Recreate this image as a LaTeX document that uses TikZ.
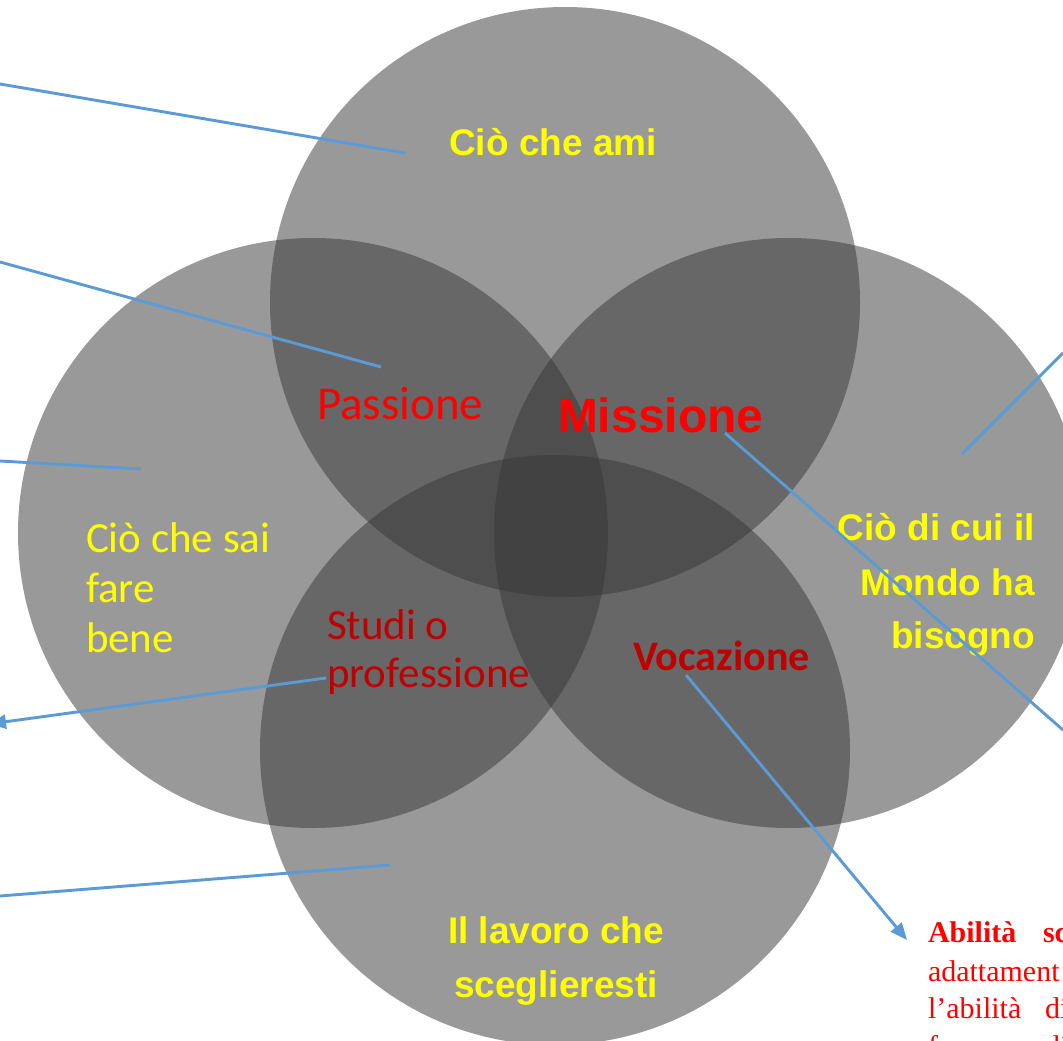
\documentclass[tikz,border=0pt]{standalone}
\usepackage{fontspec}
\setmainfont{Liberation Serif}
\newfontfamily\arialf{Liberation Sans}
\newfontfamily\calibrif{Carlito}
\usetikzlibrary{arrows.meta}
\definecolor{lineblue}{HTML}{5B9BD5}
\definecolor{darkred}{HTML}{C00000}
\definecolor{venngray}{RGB}{55,55,55}
\definecolor{vyellow}{HTML}{FFFF00}
\definecolor{vred}{HTML}{FF0000}
\begin{document}
\begin{tikzpicture}[x=1pt,y=-1pt,
  venn/.style={circle, fill=venngray, fill opacity=0.51, draw=none, minimum size=590pt, inner sep=0pt},
  conn/.style={draw=lineblue, line width=2.9pt},
  arr/.style={conn, -{Triangle[length=17pt,width=14pt]}},
  lbl/.style={inner sep=0pt, outer sep=0pt},
  arialtxt/.style={lbl, font=\arialf\bfseries\fontsize{37}{44}\selectfont, text=vyellow},
  mondotxt/.style={lbl, font=\arialf\bfseries\fontsize{37}{44}\selectfont, text=vyellow, anchor=base east},
  calibtxt/.style={lbl, font=\calibrif\fontsize{43}{50}\selectfont, anchor=base west},
  bodytxt/.style={lbl, font=\fontsize{30}{37}\selectfont, text=vred, anchor=base west},
]
\useasboundingbox (0,0) rectangle (1063,1041);
\clip (0,0) rectangle (1063,1041);
\fill[white] (0,0) rectangle (1063,1041);

% circles
\node[venn] (ctop) at (565,302) {};
\node[venn] (cleft) at (313,533) {};
\node[venn] (cright) at (789,533) {};
\node[venn] (cbot) at (555,750) {};

% labels
\node[arialtxt, anchor=base] (ami) at (553,155) {Ciò che ami};
\node[calibtxt, font=\calibrif\fontsize{47}{50}\selectfont, text=vred] (passione) at (317,419) {Passione};
\node[lbl, anchor=base west, font=\arialf\bfseries\fontsize{48}{56}\selectfont, text=vred] (missione) at (558,432) {Missione};

\node[calibtxt, text=vyellow] (sai1) at (86,552) {Ciò che sai};
\node[calibtxt, text=vyellow] (sai2) at (86,602) {fare};
\node[calibtxt, text=vyellow] (sai3) at (86,652) {bene};

\node[calibtxt, text=darkred] (studi1) at (327,639) {Studi o};
\node[calibtxt, text=darkred] (studi2) at (327,687) {professione};

\node[calibtxt, font=\calibrif\bfseries\fontsize{42}{50}\selectfont, text=darkred] (vocazione) at (633,670) {Vocazione};

\node[mondotxt] (mondo1) at (1035,540) {Ciò di cui il};
\node[mondotxt] (mondo2) at (1035,595) {Mondo ha};
\node[mondotxt] (mondo3) at (1035,648) {bisogno};

\node[arialtxt, anchor=base] (lavoro1) at (556,943) {Il lavoro che};
\node[arialtxt, anchor=base] (lavoro2) at (556,997) {sceglieresti};

% clipped body text (bottom right)
\node[bodytxt, font=\bfseries\fontsize{30}{37}\selectfont] (ab1) at (928,942) {Abilità};
\node[bodytxt, font=\bfseries\fontsize{30}{37}\selectfont] (ab2) at (1043,942) {sc};
\node[bodytxt] (ad1) at (928,981) {adattament};
\node[bodytxt] (la1) at (928,1018) {l’abilità};
\node[bodytxt] (la2) at (1045,1018) {di};
\node[bodytxt] (f1) at (928,1056) {f};
\node[bodytxt] (f2) at (1045,1056) {di};

% connector end points
\coordinate (e1) at (0,84);     \coordinate (s1) at (405,153);
\coordinate (e2) at (0,262);    \coordinate (s2) at (381,367);
\coordinate (e3) at (0,461);    \coordinate (s3) at (141,469);
\coordinate (s4) at (326,678);  \coordinate (t4) at (-11,724);
\coordinate (e5) at (0,896);    \coordinate (s5) at (390,865);
\coordinate (s6) at (962,454);  \coordinate (e6) at (1063,353);
\coordinate (s7) at (725,433);  \coordinate (e7) at (1063,730);
\coordinate (s8) at (686,675);  \coordinate (t8) at (907,940);

% connectors
\draw[conn] (e1) -- (s1);
\draw[conn] (e2) -- (s2);
\draw[conn] (e3) -- (s3);
\draw[arr] (s4) -- (t4);
\draw[conn] (e5) -- (s5);
\draw[conn] (s6) -- (e6);
\draw[conn] (s7) -- (e7);
\draw[arr] (s8) -- (t8);
\end{tikzpicture}
\end{document}
